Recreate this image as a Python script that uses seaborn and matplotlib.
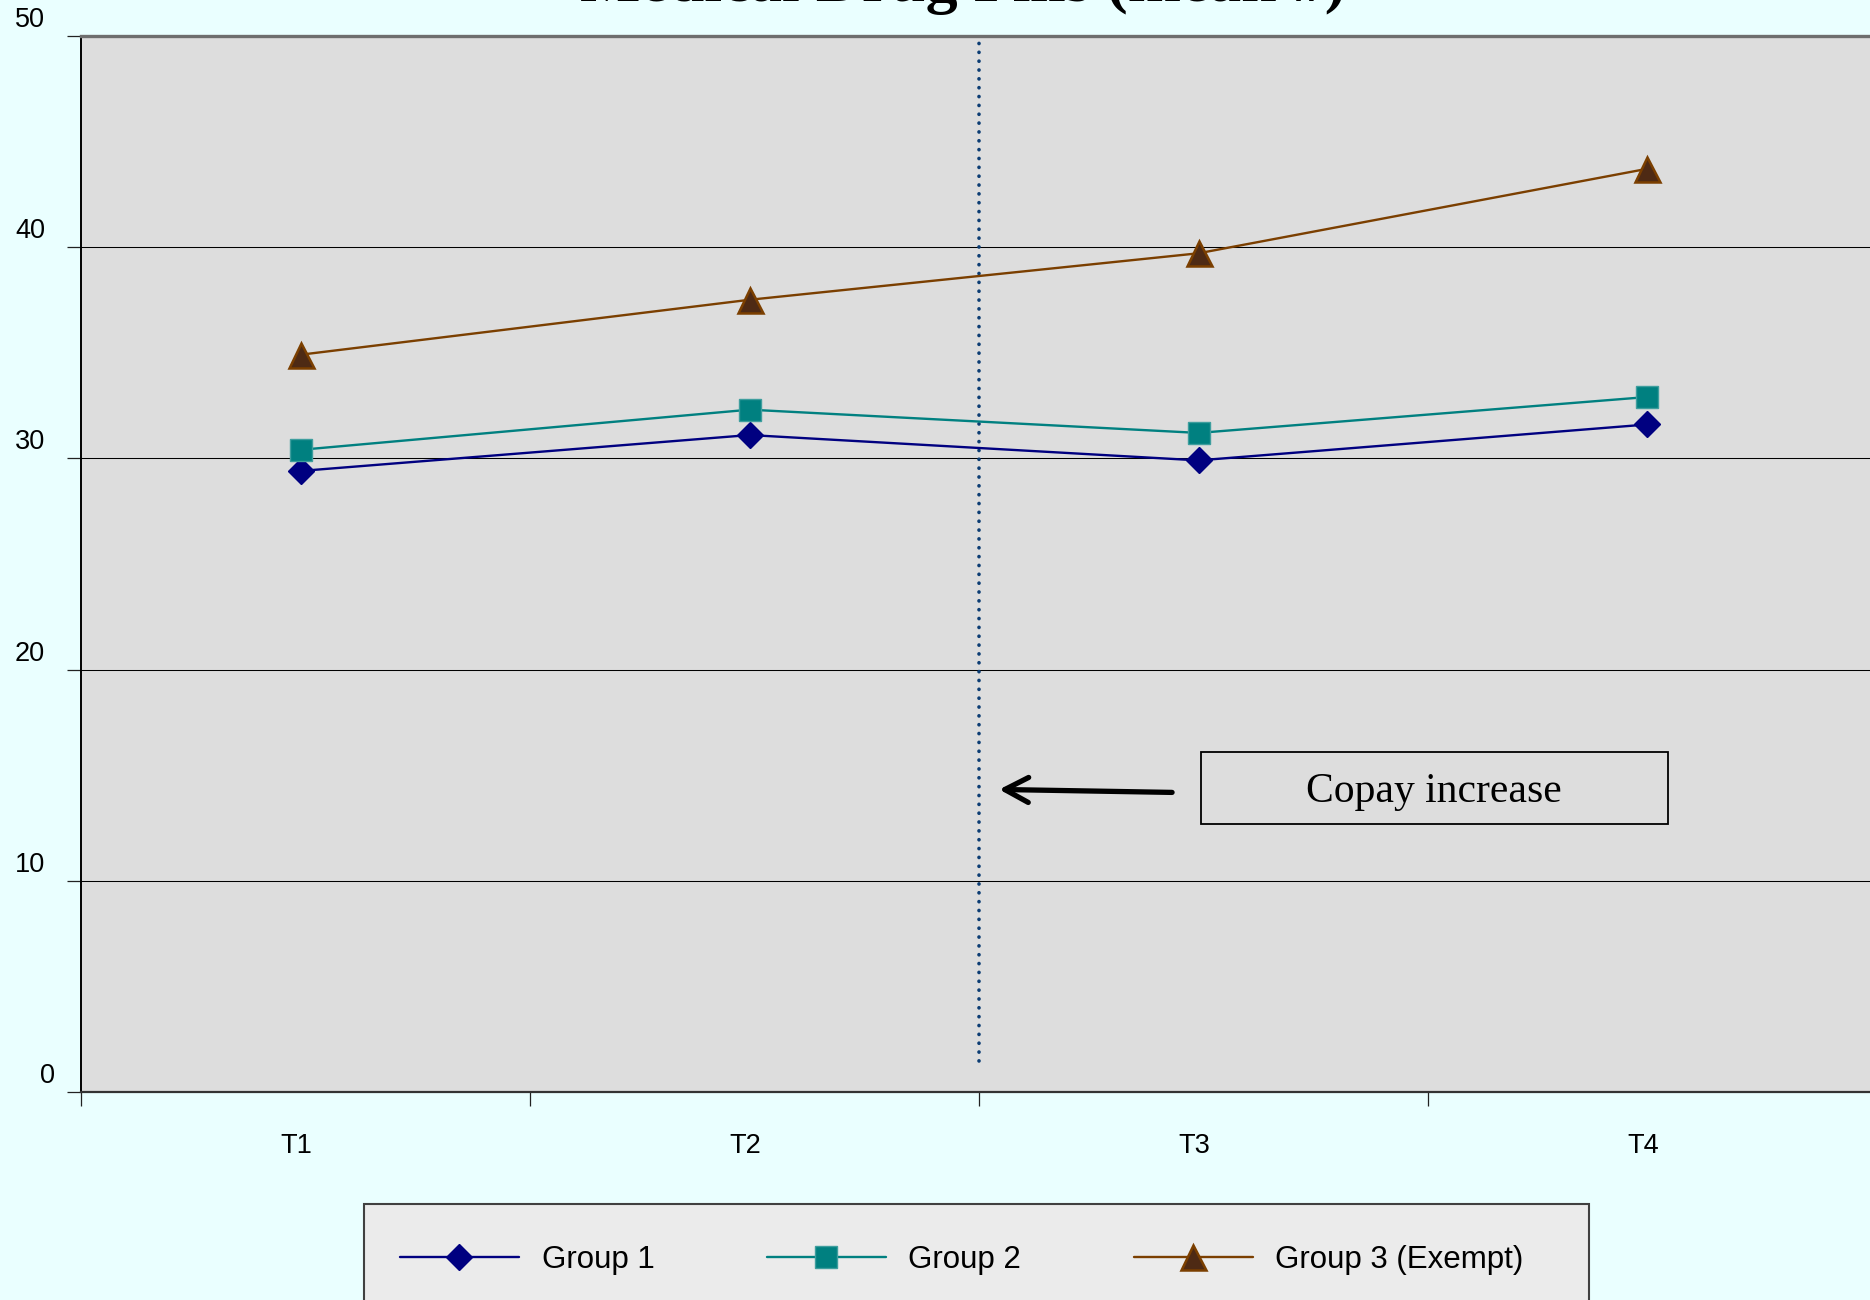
import numpy as np
import pandas as pd
import matplotlib
matplotlib.use("Agg")
import matplotlib.pyplot as plt
from matplotlib.patches import Rectangle
from matplotlib.transforms import ScaledTranslation
import seaborn as sns

# Mean number of medical drug fills per period
periods = ["T1", "T2", "T3", "T4"]
group1 = [29.4, 31.1, 29.9, 31.6]
group2 = [30.4, 32.3, 31.2, 32.9]
group3 = [34.9, 37.5, 39.7, 43.7]
series_names = ["Group 1", "Group 2", "Group 3 (Exempt)"]
y_ticks = [0, 10, 20, 30, 40, 50]
title_text = "Medical Drug Fills (mean #)"
note_text = "Copay increase"

df = pd.DataFrame({
    "period": periods * 3,
    "fills": group1 + group2 + group3,
    "group": np.repeat(series_names, len(periods)),
})

sns.set_theme(style="white")
plt.rcParams["font.family"] = ["Liberation Sans", "DejaVu Sans"]
plt.rcParams["text.color"] = "black"
SERIF = ["Liberation Serif", "DejaVu Serif"]

W, H, DPI = 1870, 1300, 100
fig = plt.figure(figsize=(W / DPI, H / DPI), dpi=DPI, facecolor="#EAFFFF")
ax = fig.add_axes([81 / W, 1 - 1092.3 / H, 1796 / W, (1092.3 - 35.6) / H])
ax.set_facecolor("#DDDDDD")


def shift(px_x, px_y):
    return ScaledTranslation(px_x / DPI, px_y / DPI, fig.dpi_scale_trans)


styles = {
    "Group 1": dict(color="#000080", marker="D", markersize=13.5,
                    markerfacecolor="#000080", markeredgecolor="#000080",
                    markeredgewidth=1.0),
    "Group 2": dict(color="#008080", marker="s", markersize=15.5,
                    markerfacecolor="#008080", markeredgecolor="#3E9E9E",
                    markeredgewidth=1.0),
    "Group 3 (Exempt)": dict(color="#7B3F00", marker="^", markersize=18,
                             markerfacecolor="#4E2A14", markeredgecolor="#7B3F00",
                             markeredgewidth=1.8),
}

for name in series_names:
    sns.lineplot(data=df[df["group"] == name], x="period", y="fills", ax=ax,
                 lw=1.7, label=name, legend=False, zorder=3, sort=False,
                 **styles[name])

# series sit slightly left of the category centres
for line in ax.get_lines():
    line.set_transform(line.get_transform() + shift(-5, 0))

ax.set_xlim(-0.5, len(periods) - 0.5)
ax.set_ylim(0, 50)
ax.set_xlabel("")
ax.set_ylabel("")

# category boundaries carry the tick marks, centres carry the labels
bounds = np.arange(len(periods) + 1) - 0.5
ax.set_xticks(bounds, labels=[""] * len(bounds))
ax.set_xticks(np.arange(len(periods)), labels=periods, minor=True)
ax.set_yticks(y_ticks, labels=[str(v) for v in y_ticks])

ax.tick_params(axis="x", which="major", direction="out", length=10, width=0.9,
               color="#222222", bottom=True)
ax.tick_params(axis="x", which="minor", length=0, pad=29, labelsize=19.5,
               labelcolor="black", bottom=True)
ax.tick_params(axis="y", which="major", direction="out", length=10, width=0.9,
               color="#222222", pad=16, labelsize=19.5, labelcolor="black",
               left=True)

for lab, v in zip(ax.get_yticklabels(), y_ticks):
    lab.set_transform(lab.get_transform() + shift(10 if v == 0 else 0, 19))
for lab in ax.get_xticklabels(minor=True):
    lab.set_transform(lab.get_transform() + shift(-9, 0))

ax.yaxis.grid(True, color="black", lw=0.75)
ax.xaxis.grid(False)
ax.set_axisbelow(True)

ax.spines["left"].set_color("black")
ax.spines["left"].set_linewidth(1.4)
ax.spines["bottom"].set_color("#333333")
ax.spines["bottom"].set_linewidth(1.6)
ax.spines["top"].set_color("#6E6E6E")
ax.spines["top"].set_linewidth(2.4)
ax.spines["right"].set_visible(False)

# copay change marker between T2 and T3
ax.axvline(1.5, ymin=1.5 / 50, ymax=1.0, color="#0B3C73", lw=2.6,
           linestyle=(0, (0.05, 2.4)), dash_capstyle="round", zorder=2)

ax.annotate("", xy=(1.545, 14.33), xytext=(1.93, 14.19),
            arrowprops=dict(arrowstyle="->,head_length=1.7,head_width=0.9",
                            lw=3.8, color="black", shrinkA=0, shrinkB=0,
                            mutation_scale=10))
ax.add_patch(Rectangle((1.994, 12.7), 1.041, 3.4, fill=False,
                       ec="black", lw=1.3, zorder=4))
ax.text(2.513, 14.2, note_text, ha="center", va="center", fontsize=30,
        family=SERIF, color="black", zorder=5)

fig.text(0.515, 1 - 1 / H, title_text, ha="center", va="baseline",
         fontsize=46, fontweight="bold", family=SERIF, color="black")

# legend panel
fig.add_artist(Rectangle((364 / W, 1 - 1310 / H), (1589 - 364) / W, (1310 - 1204) / H,
                         transform=fig.transFigure, facecolor="#EBEBEB",
                         edgecolor="#404040", lw=1.5, zorder=1))
handles, labels = ax.get_legend_handles_labels()
fig.legend(handles, labels, loc="center left",
           bbox_to_anchor=(400 / W, 1 - 1260 / H), ncol=3, frameon=False,
           fontsize=22.5, handlelength=3.8, handletextpad=0.73,
           columnspacing=3.6, borderpad=0, borderaxespad=0,
           labelcolor="black")

fig.savefig("out.png", dpi=DPI, facecolor=fig.get_facecolor())
